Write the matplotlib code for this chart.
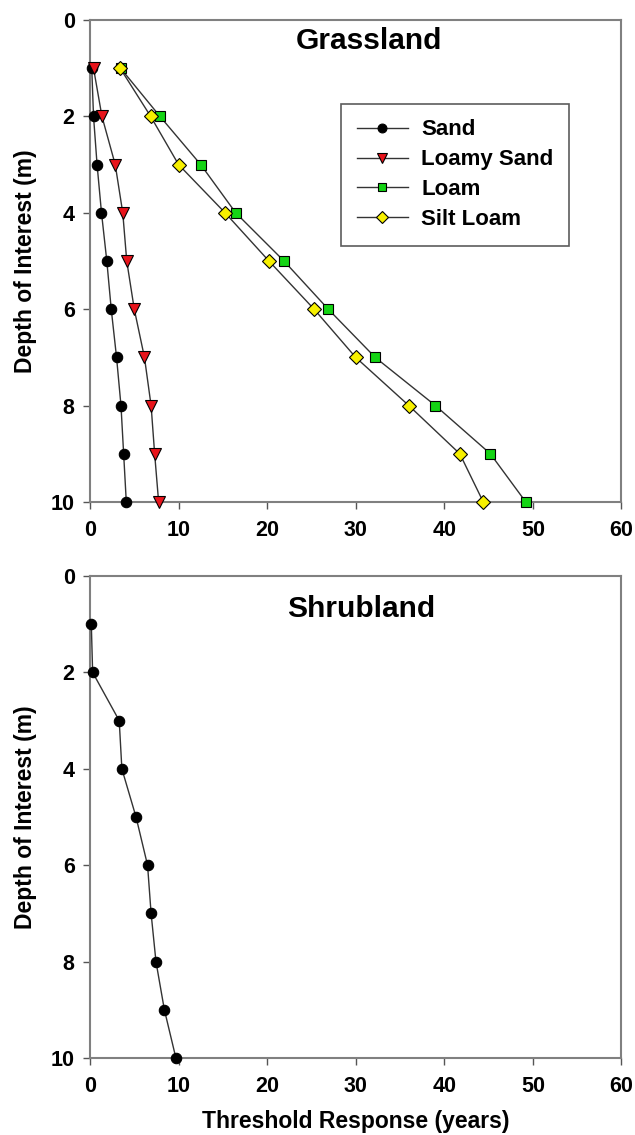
import numpy as np
import matplotlib
matplotlib.use("Agg")
import matplotlib.pyplot as plt

plt.rcParams['font.family'] = ['Liberation Sans', 'DejaVu Sans']
plt.rcParams['font.weight'] = 'bold'

# Data
depth = [1, 2, 3, 4, 5, 6, 7, 8, 9, 10]
grass_sand = [0.2, 0.4, 0.8, 1.3, 1.9, 2.4, 3.0, 3.5, 3.8, 4.1]
grass_loamy_sand = [0.4, 1.35, 2.85, 3.7, 4.15, 5.0, 6.15, 6.9, 7.3, 7.75]
grass_loam = [3.45, 7.9, 12.5, 16.45, 21.9, 26.9, 32.2, 39.0, 45.2, 49.2]
grass_silt_loam = [3.4, 6.85, 10.0, 15.25, 20.2, 25.3, 30.0, 36.0, 41.75, 44.4]
shrub_sand = [0.15, 0.3, 3.3, 3.6, 5.2, 6.5, 6.9, 7.45, 8.4, 9.7]

x_ticks = [0, 10, 20, 30, 40, 50, 60]
y_ticks = [0, 2, 4, 6, 8, 10]

fig = plt.figure(figsize=(6.35, 11.35), dpi=100)
ax1 = fig.add_axes([0.1417, 0.5577, 0.837, 0.4247])
ax2 = fig.add_axes([0.1417, 0.0678, 0.837, 0.4247])

style = dict(color='#333333', lw=1.0, markeredgecolor='black',
             markeredgewidth=0.8, clip_on=False, zorder=3)


def setup(ax, title, tx, ty):
    ax.set_xlim(0, 60)
    ax.set_ylim(10, 0)
    ax.set_xticks(x_ticks)
    ax.set_yticks(y_ticks)
    for s in ax.spines.values():
        s.set_color('#808080')
        s.set_linewidth(1.5)
    ax.tick_params(direction='out', length=5, width=1, color='#555555',
                   labelsize=15.5)
    ax.tick_params(axis='x', pad=8)
    ax.tick_params(axis='y', pad=6)
    for lab in ax.get_xticklabels() + ax.get_yticklabels():
        lab.set_fontweight('bold')
    ax.set_ylabel('Depth of Interest (m)', fontsize=16.5, fontweight='bold', labelpad=10)
    ax.text(tx, ty, title, transform=ax.transAxes, ha='center', va='center',
            fontsize=21.5, fontweight='bold')


ax1.plot(grass_sand, depth, marker='o', markersize=7.5, markerfacecolor='black', label='Sand', **style)
ax1.plot(grass_loamy_sand, depth, marker='v', markersize=8, markerfacecolor='#e8141b', label='Loamy Sand', **style)
ax1.plot(grass_loam, depth, marker='s', markersize=7, markerfacecolor='#14d414', label='Loam', **style)
ax1.plot(grass_silt_loam, depth, marker='D', markersize=7, markerfacecolor='#f7f000', label='Silt Loam', **style)
setup(ax1, 'Grassland', 0.525, 0.957)
leg = ax1.legend(loc='upper left', bbox_to_anchor=(0.473, 0.826), borderaxespad=0,
                 fancybox=False, edgecolor='#333333', fontsize=16, handlelength=2.3,
                 handletextpad=0.6, borderpad=0.7, labelspacing=0.4, markerscale=0.85)
leg.get_frame().set_linewidth(1.2)

ax2.plot(shrub_sand, depth, marker='o', markersize=7.5, markerfacecolor='black', **style)
setup(ax2, 'Shrubland', 0.510, 0.931)
ax2.set_xlabel('Threshold Response (years)', fontsize=16.5, fontweight='bold', labelpad=9)

fig.savefig('out.png', dpi=100)
